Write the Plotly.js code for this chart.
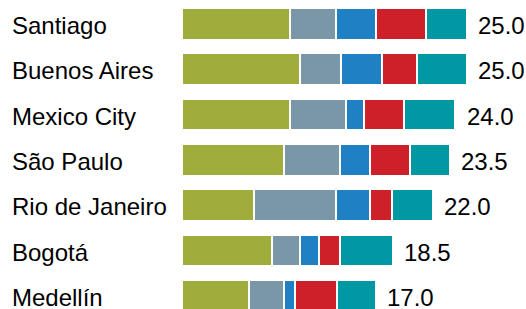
<!DOCTYPE html>
<html>
<head>
<meta charset="utf-8">
<script src="https://cdn.plot.ly/plotly-3.0.1.min.js"></script>
<style>html,body{margin:0;padding:0;background:#fff;}#chart{width:526px;height:309px;}</style>
</head>
<body>
<div id="chart"></div>
<script>
const cities = ["Santiago", "Buenos Aires", "Mexico City", "São Paulo", "Rio de Janeiro", "Bogotá", "Medellín"];
const seg1 = [9.5, 10.4, 9.5, 9.0, 6.3, 7.9, 5.9];
const seg2 = [4.0, 3.6, 4.9, 4.9, 7.2, 2.5, 3.1];
const seg3 = [3.5, 3.6, 1.6, 2.6, 3.0, 1.6, 0.9];
const seg4 = [4.4, 3.0, 3.5, 3.5, 1.9, 1.9, 3.7];
const seg5 = [3.6, 4.4, 4.5, 3.5, 3.6, 4.6, 3.4];
const totals = [25.0, 25.0, 24.0, 23.5, 22.0, 18.5, 17.0];
const seriesNames = ["Segment 1", "Segment 2", "Segment 3", "Segment 4", "Segment 5"];
const colors = ["#a0ad3c", "#7a97a7", "#2080c4", "#cd2029", "#0098a3"];

const segs = [seg1, seg2, seg3, seg4, seg5];
const data = segs.map((s, i) => ({
  type: "bar",
  orientation: "h",
  x: s,
  y: cities,
  name: seriesNames[i],
  marker: {color: colors[i], line: {color: "#ffffff", width: 2}},
  hoverinfo: "x+y+name"
}));

const font = {family: "Liberation Sans, Arial, sans-serif", size: 24, color: "#000"};
const annotations = [];
cities.forEach((c, i) => {
  annotations.push({
    xref: "paper", yref: "y", x: 0, y: c, xshift: -172.5, yshift: -1.5, xanchor: "left", yanchor: "middle",
    text: c, showarrow: false, font: font
  });
  annotations.push({
    xref: "x", yref: "y", x: totals[i], y: c, xshift: 9.5, yshift: -1.5, xanchor: "left", yanchor: "middle",
    text: totals[i].toFixed(1), showarrow: false, font: font
  });
});

const layout = {
  width: 526, height: 309,
  margin: {l: 182, r: 0, t: 0, b: 0, pad: 0},
  barmode: "stack",
  bargap: 0.3,
  showlegend: false,
  paper_bgcolor: "#fff", plot_bgcolor: "#fff",
  xaxis: {range: [0, 30.21], visible: false, fixedrange: true},
  yaxis: {type: "category", range: [6.29, -0.53], visible: false, fixedrange: true},
  annotations: annotations,
  font: font
};
Plotly.newPlot("chart", data, layout, {displayModeBar: false, staticPlot: true});
</script>
</body>
</html>
